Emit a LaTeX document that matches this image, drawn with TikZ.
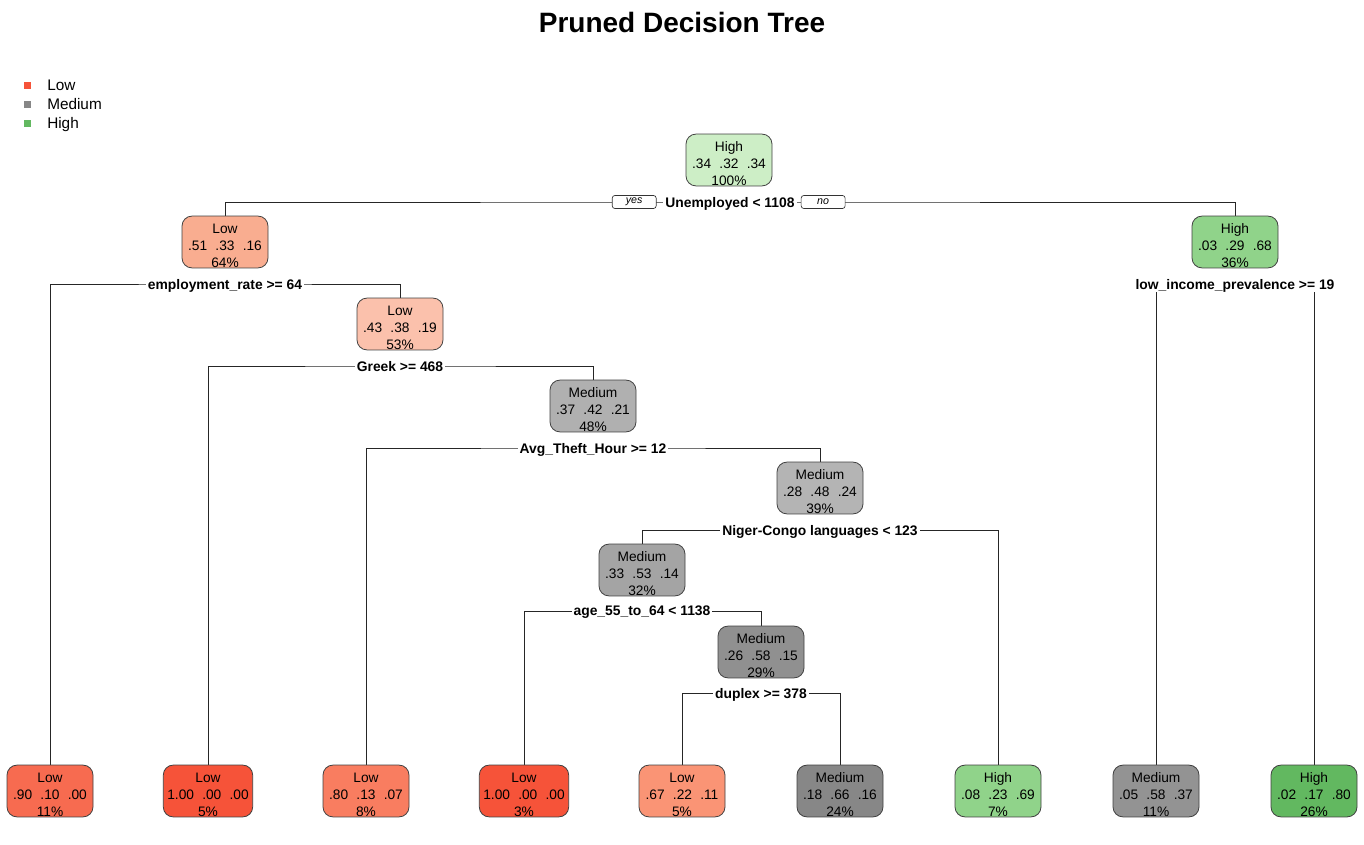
\documentclass[tikz,border=0pt]{standalone}
\usepackage{fontspec}
\setmainfont{Liberation Sans}
\usetikzlibrary{positioning,backgrounds}

\definecolor{lowA}{HTML}{F65339}
\definecolor{lowB}{HTML}{F76B50}
\definecolor{lowC}{HTML}{F97D60}
\definecolor{lowD}{HTML}{FA9475}
\definecolor{lowE}{HTML}{F9AD90}
\definecolor{lowF}{HTML}{FBC1AC}
\definecolor{medA}{HTML}{B0B0B0}
\definecolor{medB}{HTML}{B4B4B4}
\definecolor{medC}{HTML}{A4A4A4}
\definecolor{medD}{HTML}{909090}
\definecolor{medE}{HTML}{878787}
\definecolor{medF}{HTML}{939393}
\definecolor{highA}{HTML}{CDEEC6}
\definecolor{highB}{HTML}{90D38A}
\definecolor{highC}{HTML}{62B860}

% class, three probabilities, share of cases
\newcommand{\cls}[5]{\rule{0pt}{13.3pt}#1\\#2\hspace{0.6em}#3\hspace{0.6em}#4\\#5}

\tikzset{
  tnode/.style={draw=black!75, line width=0.6pt, rounded corners=7.5pt,
    minimum width=64.5pt, minimum height=38.5pt, inner xsep=3pt, inner ysep=0pt,
    align=center, font=\fontsize{10.3}{12.75}\selectfont},
  split/.style={fill=white, inner xsep=1.5pt, inner ysep=2pt, text depth=0pt,
    font=\bfseries\fontsize{10.4}{12}\selectfont},
  yesno/.style={draw=black!80, fill=white, line width=0.5pt, rounded corners=2pt,
    minimum width=33pt, minimum height=9.75pt, inner sep=0pt,
    font=\itshape\fontsize{8}{9}\selectfont},
  legsq/.style={minimum size=5.25pt, inner sep=0pt},
  legtxt/.style={anchor=west, inner sep=0pt, text height=8.3pt, text depth=2.4pt,
    font=\fontsize{11.5}{13}\selectfont},
  edge/.style={line width=0.6pt, black!85}
}

\begin{document}
\begin{tikzpicture}[x=0.75pt, y=-0.75pt]
\useasboundingbox (0,0) rectangle (1364,845);

\node[font=\bfseries\fontsize{21}{24}\selectfont] (title) at (682,22) {Pruned Decision Tree};

% legend
\node[legsq, fill=lowA] (k1) at (27,86) {};
\node[legsq, fill=medE] (k2) at (27,105) {};
\node[legsq, fill=highC] (k3) at (27,124) {};
\node[legtxt] (t1) at (47,87) {Low};
\node[legtxt] (t2) at (47,106) {Medium};
\node[legtxt] (t3) at (47,125) {High};

% inner nodes
\node[tnode, fill=highA] (n1) at (729,160) {\cls{High}{.34}{.32}{.34}{100\%}};
\node[tnode, fill=lowE] (n2) at (225,242) {\cls{Low}{.51}{.33}{.16}{64\%}};
\node[tnode, fill=highB] (n3) at (1235,242) {\cls{High}{.03}{.29}{.68}{36\%}};
\node[tnode, fill=lowF] (n4) at (400,324) {\cls{Low}{.43}{.38}{.19}{53\%}};
\node[tnode, fill=medA] (n5) at (593,406) {\cls{Medium}{.37}{.42}{.21}{48\%}};
\node[tnode, fill=medB] (n6) at (820,488) {\cls{Medium}{.28}{.48}{.24}{39\%}};
\node[tnode, fill=medC] (n7) at (642,570) {\cls{Medium}{.33}{.53}{.14}{32\%}};
\node[tnode, fill=medD] (n8) at (761,652) {\cls{Medium}{.26}{.58}{.15}{29\%}};

% leaves
\node[tnode, fill=lowB] (l1) at (50,791) {\cls{Low}{.90}{.10}{.00}{11\%}};
\node[tnode, fill=lowA] (l2) at (208,791) {\cls{Low}{1.00}{.00}{.00}{5\%}};
\node[tnode, fill=lowC] (l3) at (366,791) {\cls{Low}{.80}{.13}{.07}{8\%}};
\node[tnode, fill=lowA] (l4) at (524,791) {\cls{Low}{1.00}{.00}{.00}{3\%}};
\node[tnode, fill=lowD] (l5) at (682,791) {\cls{Low}{.67}{.22}{.11}{5\%}};
\node[tnode, fill=medE] (l6) at (840,791) {\cls{Medium}{.18}{.66}{.16}{24\%}};
\node[tnode, fill=highB] (l7) at (998,791) {\cls{High}{.08}{.23}{.69}{7\%}};
\node[tnode, fill=medF] (l8) at (1156,791) {\cls{Medium}{.05}{.58}{.37}{11\%}};
\node[tnode, fill=highC] (l9) at (1314,791) {\cls{High}{.02}{.17}{.80}{26\%}};

% split labels
\node[split] (s1) at (730,202) {Unemployed < 1108};
\node[split] (s2) at (225,284) {employment\_rate >= 64};
\node[split] (s3) at (1235,284) {low\_income\_prevalence >= 19};
\node[split] (s4) at (400,366) {Greek >= 468};
\node[split] (s5) at (593,448) {Avg\_Theft\_Hour >= 12};
\node[split] (s6) at (820,530) {Niger-Congo languages < 123};
\node[split] (s7) at (642,611) {age\_55\_to\_64 < 1138};
\node[split] (s8) at (761,693) {duplex >= 378};

\node[yesno, left=5pt of s1] (yes) {yes};
\node[yesno, right=3pt of s1] (no) {no};

\begin{scope}[on background layer]
  \draw[edge] (n2.north) |- (s1.center) -| (n3.north);
  \draw[edge] (l1.north) |- (s2.center) -| (n4.north);
  \draw[edge] (l8.north) |- (s3.center) -| (l9.north);
  \draw[edge] (l2.north) |- (s4.center) -| (n5.north);
  \draw[edge] (l3.north) |- (s5.center) -| (n6.north);
  \draw[edge] (n7.north) |- (s6.center) -| (l7.north);
  \draw[edge] (l4.north) |- (s7.center) -| (n8.north);
  \draw[edge] (l5.north) |- (s8.center) -| (l6.north);
\end{scope}
\end{tikzpicture}
\end{document}
